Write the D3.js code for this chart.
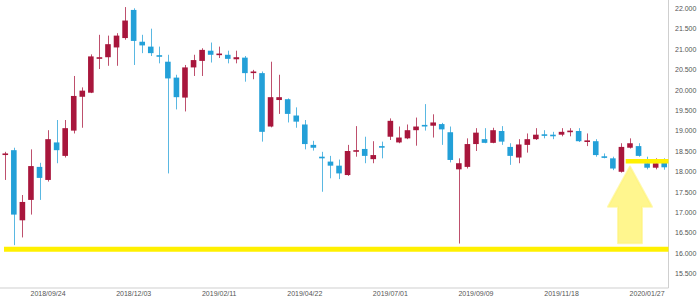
<!DOCTYPE html>
<html>
<head>
<meta charset="utf-8">
<script src="https://cdn.jsdelivr.net/npm/d3@7"></script>
<style>
  html, body { margin: 0; padding: 0; background: #fff; }
  svg { display: block; }
  text { font-family: "Liberation Sans", Arial, sans-serif; }
</style>
</head>
<body>
<svg id="chart" width="700" height="300"></svg>
<script>
const dates = [
  "2018/08/20","2018/08/27","2018/09/03","2018/09/10","2018/09/17","2018/09/24","2018/10/01","2018/10/08","2018/10/15","2018/10/22",
  "2018/10/29","2018/11/05","2018/11/12","2018/11/19","2018/11/26","2018/12/03","2018/12/10","2018/12/17","2018/12/24","2018/12/31",
  "2019/01/07","2019/01/14","2019/01/21","2019/01/28","2019/02/04","2019/02/11","2019/02/18","2019/02/25","2019/03/04","2019/03/11",
  "2019/03/18","2019/03/25","2019/04/01","2019/04/08","2019/04/15","2019/04/22","2019/04/29","2019/05/06","2019/05/13","2019/05/20",
  "2019/05/27","2019/06/03","2019/06/10","2019/06/17","2019/06/24","2019/07/01","2019/07/08","2019/07/15","2019/07/22","2019/07/29",
  "2019/08/05","2019/08/12","2019/08/19","2019/08/26","2019/09/02","2019/09/09","2019/09/16","2019/09/23","2019/09/30","2019/10/07",
  "2019/10/14","2019/10/21","2019/10/28","2019/11/04","2019/11/11","2019/11/18","2019/11/25","2019/12/02","2019/12/09","2019/12/16",
  "2019/12/23","2019/12/30","2020/01/06","2020/01/13","2020/01/20","2020/01/27","2020/02/03","2020/02/10"
];
const openVals = [
  18.41,18.52,16.80,17.30,18.11,17.79,18.71,18.38,19.00,19.83,
  19.93,20.78,20.80,21.04,21.27,21.96,21.18,21.06,20.85,20.69,
  20.30,19.81,20.55,20.71,20.96,20.87,20.86,20.75,20.79,20.42,
  20.41,19.10,19.75,19.77,19.37,19.15,18.65,18.36,18.24,18.14,
  17.91,18.49,18.55,18.30,18.62,18.85,18.71,18.81,19.01,19.14,
  19.12,19.16,18.96,18.05,18.11,18.67,18.79,18.70,18.99,18.60,
  18.34,18.65,18.79,18.91,18.90,18.90,18.98,18.99,18.74,18.74,
  18.37,18.32,17.99,18.58,18.62,18.20,18.09,18.21
];
const highVals = [
  18.48,18.58,17.42,18.54,18.21,19.01,19.26,19.26,20.34,20.06,
  20.87,21.35,21.33,21.39,22.03,22.00,21.35,21.50,21.06,20.86,
  20.37,20.61,20.86,21.02,21.16,21.06,20.96,20.96,20.83,20.49,
  20.45,20.69,20.37,19.79,19.57,19.26,18.75,18.48,18.38,18.29,
  18.65,19.11,18.85,18.74,18.73,19.30,19.10,19.15,19.32,19.65,
  19.40,19.19,19.10,18.32,18.81,19.06,19.06,19.07,19.11,18.69,
  18.79,18.93,19.06,19.01,18.97,19.06,19.06,19.06,18.93,18.79,
  18.44,18.36,18.69,18.81,18.69,18.36,18.32,18.32
];
const lowVals = [
  17.79,16.19,16.38,16.94,17.30,17.75,18.20,18.34,18.93,19.07,
  19.92,20.51,20.59,20.59,21.23,20.61,20.90,20.83,20.65,17.95,
  19.52,19.47,20.34,20.34,20.67,20.78,20.65,20.65,20.20,20.26,
  18.73,19.08,19.41,19.20,19.07,18.54,18.51,17.50,17.83,17.81,
  17.89,18.36,18.20,18.20,18.32,18.77,18.69,18.79,18.63,19.00,
  18.83,18.65,18.22,16.23,18.07,18.50,18.69,18.69,18.65,18.16,
  18.20,18.46,18.77,18.81,18.79,18.86,18.86,18.72,18.62,18.36,
  18.32,18.03,17.97,18.56,18.36,18.05,18.05,18.04
];
const closeVals = [
  18.44,16.94,17.25,18.13,17.84,18.79,18.52,19.06,19.85,19.98,
  20.82,20.80,21.12,21.33,21.70,21.20,21.09,20.90,20.83,20.28,
  19.82,20.55,20.73,20.98,20.86,20.89,20.76,20.80,20.41,20.45,
  18.97,19.82,19.82,19.41,19.22,18.67,18.58,18.32,18.14,17.95,
  18.50,18.52,18.38,18.40,18.60,19.24,18.83,19.01,19.10,19.12,
  19.20,19.03,18.28,18.20,18.67,18.95,18.70,19.01,18.73,18.38,
  18.66,18.79,18.90,18.90,18.89,18.97,19.00,18.74,18.76,18.40,
  18.35,18.07,18.60,18.69,18.38,18.09,18.20,18.10
];
const xTickLabels = ["2018/09/24","2018/12/03","2019/02/11","2019/04/22","2019/07/01","2019/09/09","2019/11/18","2020/01/27"];
const yTickValues = [15.5,16,16.5,17,17.5,18,18.5,19,19.5,20,20.5,21,21.5,22];
const supportLevel = 16.09;
const resistanceLevel = 18.25;
const resistanceStart = "2020/01/13";
const arrowDate = "2020/01/13";
const arrowTip = 18.12, arrowHeadBase = 17.13, arrowBase = 16.24;

const candles = dates.map((d, i) => ({date: d, o: openVals[i], h: highVals[i], l: lowVals[i], c: closeVals[i]}));

const svg = d3.select("#chart");
const W = 700, H = 300;
const plotRight = 668.5, plotBottom = 288;

const x = d3.scaleBand().domain(dates).range([1, plotRight]).padding(0);
const y = d3.scaleLinear().domain([15.5, 22]).range([273.3, 8.3]);
const cx = d => x(d) + x.bandwidth() / 2;

const upColor = "#a8163c", downColor = "#23a0d8";
const bodyW = 5.6;

// axes lines
svg.append("line").attr("x1", 0).attr("x2", plotRight).attr("y1", plotBottom).attr("y2", plotBottom)
  .attr("stroke", "#cfcfcf").attr("stroke-width", 1);
svg.append("line").attr("x1", plotRight).attr("x2", plotRight).attr("y1", 0).attr("y2", plotBottom)
  .attr("stroke", "#cfcfcf").attr("stroke-width", 1);

// candles
const g = svg.append("g");
const cg = g.selectAll("g.candle").data(candles).join("g").attr("class", "candle");
cg.append("line")
  .attr("x1", d => Math.round(cx(d.date)) + 0.5).attr("x2", d => Math.round(cx(d.date)) + 0.5)
  .attr("y1", d => y(d.h)).attr("y2", d => y(d.l))
  .attr("stroke", d => d.c >= d.o ? upColor : downColor)
  .attr("stroke-opacity", 0.75)
  .attr("stroke-width", 1);
cg.append("rect")
  .attr("x", d => cx(d.date) - bodyW / 2)
  .attr("width", bodyW)
  .attr("y", d => Math.min(y(d.o), y(d.c)))
  .attr("height", d => Math.max(1.6, Math.abs(y(d.o) - y(d.c))))
  .attr("fill", d => d.c >= d.o ? upColor : downColor);

// x axis labels
const xAxis = d3.axisBottom(x).tickValues(xTickLabels).tickSize(0).tickPadding(3);
const xg = svg.append("g").attr("transform", `translate(0,${plotBottom})`).call(xAxis);
xg.select(".domain").remove();
xg.selectAll("text").attr("font-size", 7).attr("fill", "#555").attr("font-family", "Liberation Sans, Arial, sans-serif");

// y axis labels (right)
const yAxis = d3.axisRight(y).tickValues(yTickValues).tickFormat(d3.format(".3f")).tickSize(0).tickPadding(6.5);
const yg = svg.append("g").attr("transform", `translate(${plotRight},0)`).call(yAxis);
yg.select(".domain").remove();
yg.selectAll("text").attr("font-size", 7).attr("fill", "#555").attr("font-family", "Liberation Sans, Arial, sans-serif");

// annotations: support line
svg.append("line")
  .attr("x1", 4).attr("x2", plotRight)
  .attr("y1", y(supportLevel)).attr("y2", y(supportLevel))
  .attr("stroke", "#fff000").attr("stroke-width", 5);

// resistance short line
svg.append("line")
  .attr("x1", x(resistanceStart)).attr("x2", plotRight)
  .attr("y1", y(resistanceLevel)).attr("y2", y(resistanceLevel))
  .attr("stroke", "#fff000").attr("stroke-width", 4.5);

// arrow
const ax = cx(arrowDate);
const headHalf = 22, shaftHalf = 12;
const pts = [
  [ax, y(arrowTip)],
  [ax + headHalf, y(arrowHeadBase)],
  [ax + shaftHalf, y(arrowHeadBase)],
  [ax + shaftHalf, y(arrowBase)],
  [ax - shaftHalf, y(arrowBase)],
  [ax - shaftHalf, y(arrowHeadBase)],
  [ax - headHalf, y(arrowHeadBase)]
];
svg.append("path")
  .attr("d", d3.line()(pts) + "Z")
  .attr("fill", "#fff47a")
  .attr("fill-opacity", 0.85)
  .attr("stroke", "#fff47a")
  .attr("stroke-opacity", 0.6)
  .attr("stroke-width", 2)
  .attr("stroke-linejoin", "round");
</script>
</body>
</html>
